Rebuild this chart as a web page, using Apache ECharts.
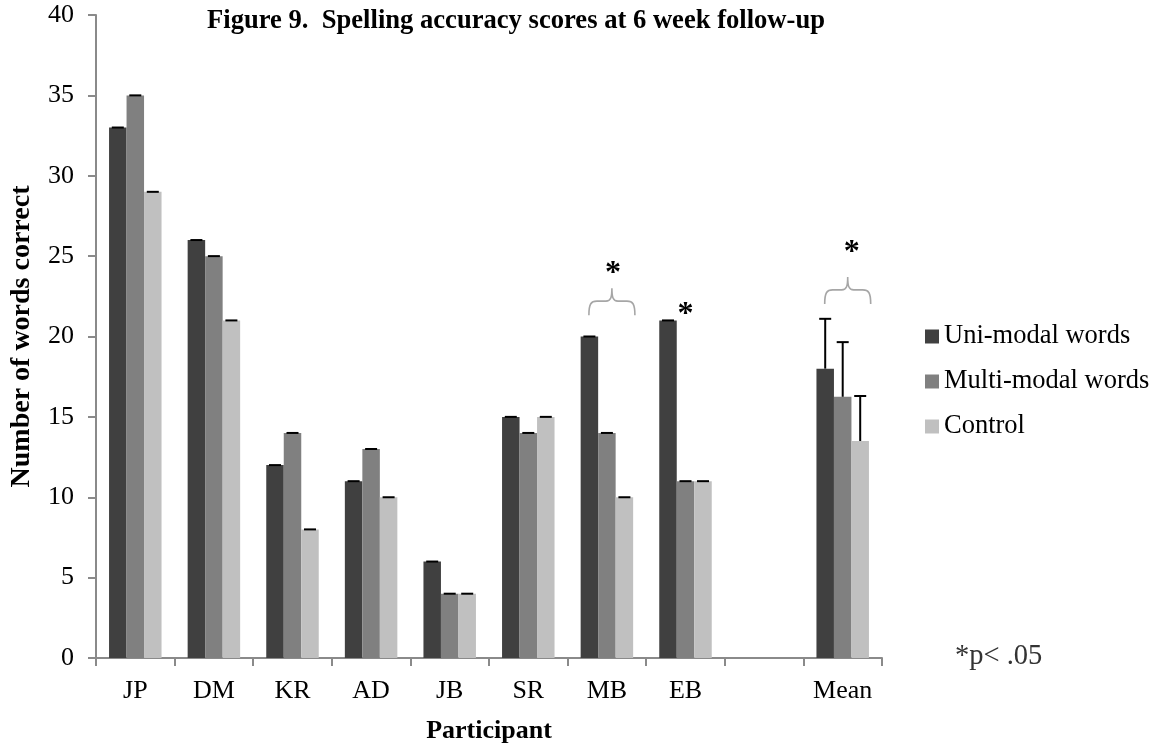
<!DOCTYPE html>
<html>
<head>
<meta charset="utf-8">
<script src="https://cdn.jsdelivr.net/npm/echarts@6/dist/echarts.min.js"></script>
<style>
html,body{margin:0;padding:0;background:#fff;}
#chart{width:1160px;height:749px;}
</style>
</head>
<body>
<div id="chart"></div>
<script>
// ---- data ----
const categories = ['JP', 'DM', 'KR', 'AD', 'JB', 'SR', 'MB', 'EB', '', 'Mean'];
const seriesNames = ['Uni-modal words', 'Multi-modal words', 'Control'];
const uniModal   = [33, 26, 12, 11, 6, 15, 20, 21, null, 18];
const multiModal = [35, 25, 14, 13, 4, 14, 14, 11, null, 16.25];
const control    = [29, 21, 8, 10, 4, 15, 10, 11, null, 13.5];
const uniErr     = [0, 0, 0, 0, 0, 0, 0, 0, null, 3.1];
const multiErr   = [0, 0, 0, 0, 0, 0, 0, 0, null, 3.4];
const controlErr = [0, 0, 0, 0, 0, 0, 0, 0, null, 2.8];
const yTicks = [0, 5, 10, 15, 20, 25, 30, 35, 40];
const braceAt = [['MB', 22.2], ['Mean', 22.9]];
const starAt  = [['MB', 24.25], ['EB', 21.7], ['Mean', 25.56]];
const titleText = 'Figure 9.  Spelling accuracy scores at 6 week follow-up';
const noteText = '*p< .05';

// ---- styles ----
const FONT = '"Liberation Serif", "Times New Roman", serif';
const colors = ['#404040', '#808080', '#c0c0c0'];
const BW = 17.5;
const axisColor = '#8a8a8a';
const starDx = { MB: 6, EB: 0, Mean: 9 };
const braceDx = 5;

const chart = echarts.init(document.getElementById('chart'), null, { renderer: 'canvas' });

const valueSets = [uniModal, multiModal, control];
const errSets = [uniErr, multiErr, controlErr];

const errData = [];
valueSets.forEach((vals, g) => {
  vals.forEach((v, i) => {
    if (v !== null && errSets[g][i] !== null) errData.push([i, v, errSets[g][i], g]);
  });
});

const annData = [];
braceAt.forEach(b => annData.push([categories.indexOf(b[0]), b[1], 0, braceDx]));
starAt.forEach(s => annData.push([categories.indexOf(s[0]), s[1], 1, starDx[s[0]]]));

const barSeries = seriesNames.map((name, g) => ({
  name: name,
  type: 'bar',
  data: valueSets[g],
  barWidth: BW,
  barGap: '0%',
  itemStyle: { color: colors[g] },
  emphasis: { disabled: true },
  z: 2
}));

const option = {
  animation: false,
  backgroundColor: '#fff',
  title: {
    text: titleText,
    left: 202,
    top: 3,
    textStyle: { fontFamily: FONT, fontSize: 26.6, fontWeight: 'bold', color: '#000' }
  },
  legend: {
    orient: 'vertical',
    left: 920,
    top: 318,
    itemWidth: 14,
    itemHeight: 14,
    itemGap: 18,
    icon: 'rect',
    data: seriesNames,
    textStyle: { fontFamily: FONT, fontSize: 26.5, color: '#000', lineHeight: 24 },
    selectedMode: false
  },
  grid: { left: 94, right: 278, top: 15, bottom: 91, containLabel: false },
  xAxis: {
    type: 'category',
    data: categories,
    name: 'Participant',
    nameLocation: 'middle',
    nameGap: 60,
    nameTextStyle: { fontFamily: FONT, fontSize: 26, fontWeight: 'bold', color: '#000' },
    axisLine: { lineStyle: { color: axisColor, width: 2 } },
    axisTick: { show: true, length: 8, interval: 0, lineStyle: { color: axisColor, width: 2 } },
    axisLabel: { interval: 0, fontFamily: FONT, fontSize: 26, color: '#000', margin: 20 }
  },
  yAxis: {
    type: 'value',
    min: yTicks[0],
    max: yTicks[yTicks.length - 1],
    interval: yTicks[1] - yTicks[0],
    name: 'Number of words correct',
    nameLocation: 'middle',
    nameRotate: 90,
    nameGap: 60,
    nameTextStyle: { fontFamily: FONT, fontSize: 28, fontWeight: 'bold', color: '#000' },
    axisLine: { show: true, lineStyle: { color: axisColor, width: 2 } },
    axisTick: { show: true, length: 8, lineStyle: { color: axisColor, width: 2 } },
    splitLine: { show: false },
    axisLabel: { fontFamily: FONT, fontSize: 26, color: '#000', margin: 22 }
  },
  series: barSeries.concat([
    {
      type: 'custom',
      name: 'errors',
      data: errData,
      encode: { x: 0, y: 1 },
      z: 5,
      silent: true,
      renderItem: function (params, api) {
        const cat = api.value(0), v = api.value(1), e = api.value(2), g = api.value(3);
        const p0 = api.coord([cat, v]);
        const p1 = api.coord([cat, v + e]);
        const x = p0[0] + (g - 1) * BW;
        const children = [];
        if (e > 0) {
          children.push({ type: 'line', shape: { x1: x, y1: p0[1], x2: x, y2: p1[1] },
            style: { stroke: '#000', lineWidth: 2 } });
        }
        children.push({ type: 'line', shape: { x1: x - 6, y1: p1[1], x2: x + 6, y2: p1[1] },
          style: { stroke: '#000', lineWidth: 2 } });
        return { type: 'group', children: children };
      }
    },
    {
      type: 'custom',
      name: 'annotations',
      data: annData,
      encode: { x: 0, y: 1 },
      z: 6,
      silent: true,
      renderItem: function (params, api) {
        const cat = api.value(0), yv = api.value(1), kind = api.value(2), dx = api.value(3);
        const p = api.coord([cat, yv]);
        const cx = p[0] + dx, cy = p[1];
        if (kind === 0) {
          const w = 23, d = 14, u = 13;
          const path = 'M' + (cx - w) + ',' + (cy + d) +
            ' C' + (cx - w) + ',' + (cy + 3) + ' ' + (cx - w + 2) + ',' + cy + ' ' + (cx - w + 8) + ',' + cy +
            ' L' + (cx - 6) + ',' + cy +
            ' C' + (cx - 1) + ',' + cy + ' ' + cx + ',' + (cy - 4) + ' ' + cx + ',' + (cy - u) +
            ' C' + cx + ',' + (cy - 4) + ' ' + (cx + 1) + ',' + cy + ' ' + (cx + 6) + ',' + cy +
            ' L' + (cx + w - 8) + ',' + cy +
            ' C' + (cx + w - 2) + ',' + cy + ' ' + (cx + w) + ',' + (cy + 3) + ' ' + (cx + w) + ',' + (cy + d);
          return { type: 'path', shape: { pathData: path },
            style: { stroke: '#a6a6a6', lineWidth: 1.6, fill: null } };
        }
        return { type: 'text', x: cx, y: cy + 6,
          style: { text: '*', fontFamily: FONT, fontSize: 32, fontWeight: 'bold', fill: '#000',
            align: 'center', verticalAlign: 'middle' } };
      }
    }
  ]),
  graphic: [
    { type: 'text', left: 955, top: 642,
      style: { text: noteText, fontFamily: FONT, fontSize: 28.5, fill: '#333' } }
  ]
};

chart.setOption(option);
</script>
</body>
</html>
